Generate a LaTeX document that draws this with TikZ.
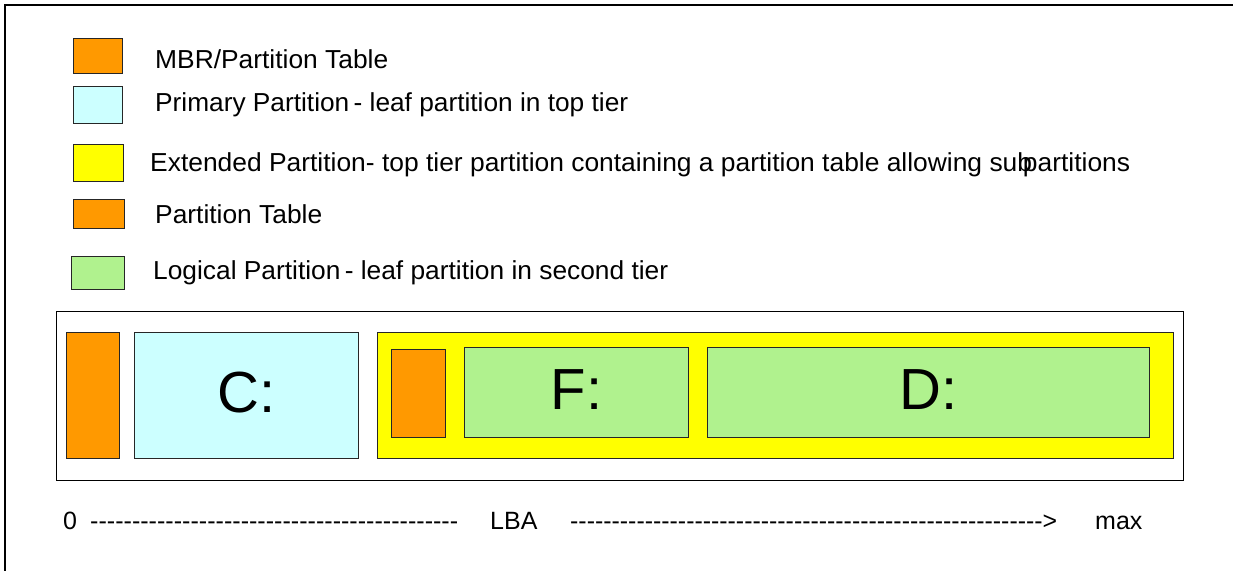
\documentclass[tikz,border=0pt]{standalone}
\usepackage{fontspec}
\usepackage{graphicx}
\setmainfont{Liberation Sans}
\definecolor{mbrorange}{HTML}{FF9900}
\definecolor{primcyan}{HTML}{CCFFFF}
\definecolor{extyellow}{HTML}{FFFF00}
\definecolor{loggreen}{HTML}{B0F28E}
\newcommand\fitto[2]{\resizebox{#1}{\height}{#2}}
\newcommand\hyrun[1]{\foreach \i in {1,...,#1}{-{}}}
\begin{document}
\begin{tikzpicture}[x=1pt,y=-1pt,
  part/.style={draw=black!85, line width=0.9pt, inner sep=0pt, anchor=north west},
  legtext/.style={anchor=base west, inner sep=0pt, font=\fontsize{26pt}{30pt}\selectfont},
  lbatext/.style={anchor=base west, inner sep=0pt, font=\fontsize{25pt}{30pt}\selectfont},
  bigtext/.style={font=\fontsize{58pt}{64pt}\selectfont}]
\useasboundingbox[fill=white] (0,0) rectangle (1233,571);
% outer frame (top and left edges)
\draw[line width=2.5pt] (1233,5) -- (5,5) -- (5,571);
% legend
\node[part, fill=mbrorange, minimum width=49pt, minimum height=35pt] (l1) at (73,38) {};
\node[part, fill=primcyan, minimum width=49pt, minimum height=37pt] (l2) at (73,86) {};
\node[part, fill=extyellow, minimum width=50pt, minimum height=37pt] (l3) at (73,144) {};
\node[part, fill=mbrorange, minimum width=51pt, minimum height=29pt] (l4) at (73,199) {};
\node[part, fill=loggreen, minimum width=53pt, minimum height=33pt] (l5) at (71,256) {};
\node[legtext] (t1) at (155,68) {\fitto{233pt}{MBR/Partition Table}};
\node[legtext] (t2) at (155,111) {\fitto{473pt}{Primary Partition\kern-3pt{} - leaf partition in top tier}};
\node[legtext] (t3) at (150,171) {\fitto{980pt}{Extended Partition- top tier partition containing a partition table allowing sub\kern-9pt partitions}};
\node[legtext] (t4) at (155,223) {\fitto{167pt}{Partition Table}};
\node[legtext] (t5) at (153,279) {\fitto{515pt}{Logical Partition\kern-3pt{} - leaf partition in second tier}};
% disk
\node[part, draw=black, line width=1.2pt, minimum width=1127pt, minimum height=169pt] (disk) at (56,311) {};
\node[part, fill=mbrorange, minimum width=53pt, minimum height=126pt] (mbr) at (66,332) {};
\node[part, fill=primcyan, minimum width=224pt, minimum height=126pt] (c) at (134,332) {};
\node[part, fill=extyellow, minimum width=796pt, minimum height=126pt] (ext) at (377,332) {};
\node[part, fill=mbrorange, minimum width=54pt, minimum height=88pt] (pt) at (391,349) {};
\node[part, fill=loggreen, minimum width=224pt, minimum height=90pt] (f) at (464,347) {};
\node[part, fill=loggreen, minimum width=442pt, minimum height=90pt] (d) at (707,347) {};
\node[bigtext, anchor=base, inner sep=0pt] (cl) at (c.center |- 0,412) {C:};
\node[bigtext, anchor=base, inner sep=0pt] (fl) at (f.center |- 0,409) {F:};
\node[bigtext, anchor=base, inner sep=0pt] (dl) at (d.center |- 0,409) {D:};
% LBA axis
\node[lbatext] (zero) at (63,529) {0};
\node[lbatext] (dash1) at (90,529) {\fitto{368pt}{\hyrun{44}}};
\node[lbatext] (lba) at (490,529) {LBA};
\node[lbatext] (dash2) at (570,529) {\fitto{487pt}{\hyrun{57}{>}}};
\node[lbatext] (max) at (1095,529) {max};
\end{tikzpicture}
\end{document}
